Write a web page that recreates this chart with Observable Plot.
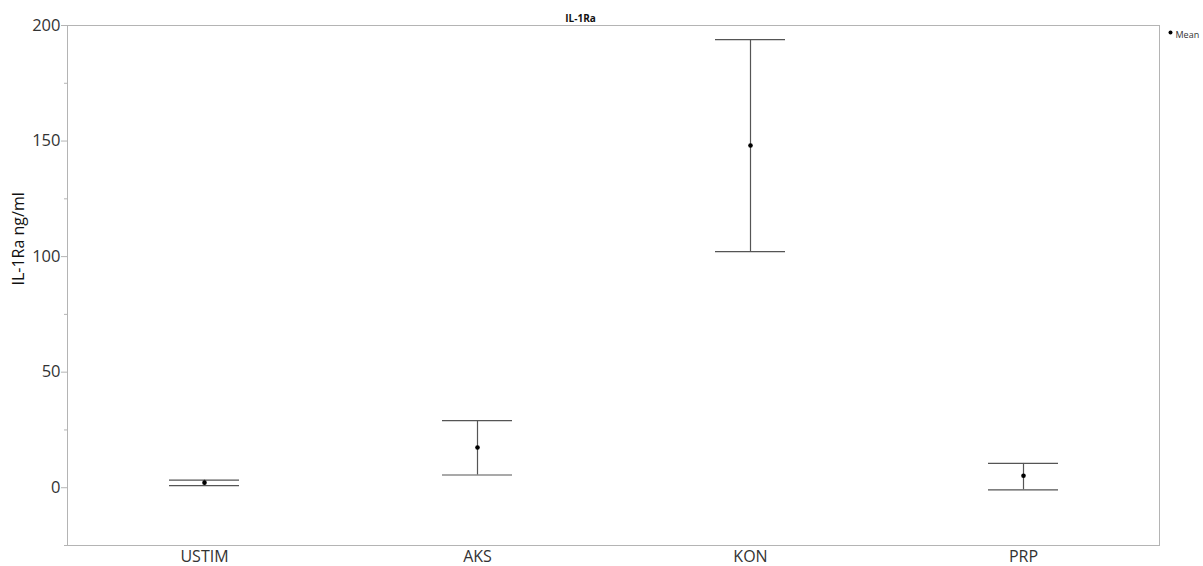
<!DOCTYPE html>
<html>
<head>
<meta charset="utf-8">
<script src="https://cdn.jsdelivr.net/npm/d3@7"></script>
<script src="https://cdn.jsdelivr.net/npm/@observablehq/plot@0.6"></script>
<style>
  html, body { margin: 0; padding: 0; background: #fff; }
  #chart svg { display: block; }
</style>
</head>
<body>
<div id="chart"></div>
<script>
const groups = ["USTIM", "AKS", "KON", "PRP"];
const means = [2.2, 17.4, 148.1, 5.2];
const lower = [0.9, 5.5, 102.2, -0.9];
const upper = [3.3, 29.0, 193.9, 10.5];
const majorTicks = [0, 50, 100, 150, 200];
const minorTicks = [-25, 25, 75, 125, 175];
const title = "IL-1Ra";
const yLabel = "IL-1Ra ng/ml";
const legendLabel = "Mean";

const data = groups.map((g, i) => ({group: g, mean: means[i], lo: lower[i], hi: upper[i]}));

const font = "'Open Sans', 'Noto Sans', sans-serif";

const chart = Plot.plot({
  width: 1203,
  height: 566,
  marginTop: 25,
  marginBottom: 21,
  marginLeft: 67,
  marginRight: 44,
  style: {fontFamily: font, background: "#fff"},
  x: {domain: groups, paddingInner: 0.744, paddingOuter: 0.372, label: null},
  y: {domain: [-25, 200], label: null},
  marks: [
    Plot.frame({stroke: "#b4b4b4", strokeWidth: 1}),
    Plot.axisY({ticks: minorTicks, tickSize: 3, stroke: "#b4b4b4", tickFormat: () => ""}),
    Plot.axisY({ticks: majorTicks, tickSize: 6, tickPadding: 1, stroke: "#b4b4b4", fill: "#333", fontSize: 16.5, label: null}),
    Plot.axisX({tickSize: 0, tickPadding: 5, fontSize: 16, fill: "#333", label: null}),
    Plot.ruleX(data, {x: "group", y1: "lo", y2: "hi", stroke: "#555", strokeWidth: 1.2}),
    Plot.tickY(data, {x: "group", y: "hi", stroke: "#555", strokeWidth: 1.2}),
    Plot.tickY(data, {x: "group", y: "lo", stroke: "#555", strokeWidth: 1.2}),
    Plot.dot(data, {x: "group", y: "mean", r: 2.3, fill: "#000", stroke: null}),
    Plot.text([title], {text: d => d, frameAnchor: "top-left", textAnchor: "middle", dx: 513, dy: -11, fontSize: 10, fontWeight: "bold", fill: "#111"}),
    Plot.text([yLabel], {text: d => d, frameAnchor: "left", dx: -49, rotate: -90, fontSize: 16, fill: "#111"}),
    Plot.dot([legendLabel], {frameAnchor: "top-right", dx: 11, dy: 7, r: 2, fill: "#000", stroke: null}),
    Plot.text([legendLabel], {text: d => d, frameAnchor: "top-right", dx: 16, dy: 6, textAnchor: "start", fontSize: 9, fill: "#333"})
  ]
});
document.getElementById("chart").appendChild(chart);
</script>
</body>
</html>
